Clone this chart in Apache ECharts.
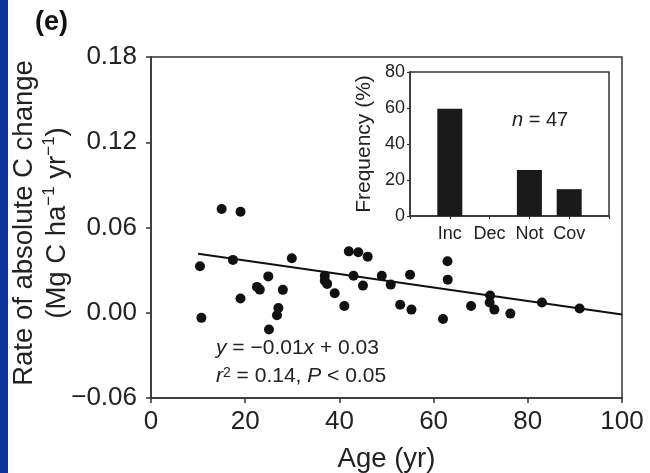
<!DOCTYPE html>
<html><head><meta charset="utf-8">
<script src="https://cdn.jsdelivr.net/npm/echarts@6/dist/echarts.min.js"></script>
<style>html,body{margin:0;padding:0;background:#fff}#c{width:650px;height:473px}</style>
</head><body><div id="c"></div>
<script>
// Main scatter: stand age (yr) vs rate of absolute C change (Mg C ha-1 yr-1)
const ages  = [15.0, 19.0, 10.4, 17.4, 29.9, 24.9, 22.5, 23.1, 28.0, 19.0, 27.05, 26.75, 10.7, 25.05,
               36.9, 36.9, 37.4, 39.0, 41.05, 42.0, 44.0, 46.0, 43.0, 45.0, 49.0, 50.9, 52.9, 55.3,
               55.0, 62.95, 63.0, 62.0, 67.95, 72.0, 71.9, 72.9, 76.3, 83.0, 91.0];
const rates = [0.0730, 0.0711, 0.0327, 0.0372, 0.0383, 0.0256, 0.0182, 0.0163, 0.0161, 0.0100, 0.0034, -0.0018, -0.0036, -0.0118,
               0.0261, 0.0226, 0.0203, 0.0137, 0.0048, 0.0432, 0.0426, 0.0395, 0.0260, 0.0191, 0.0260, 0.0198, 0.0056, 0.0022,
               0.0267, 0.0363, 0.0233, -0.0044, 0.0047, 0.0121, 0.0072, 0.0022, -0.0006, 0.0072, 0.0030];
// Fitted regression line end points
const trendAges  = [10, 100];
const trendRates = [0.0416, -0.0013];
// Axis ticks
const xTicks = [0, 20, 40, 60, 80, 100];
const yTicks = [-0.06, 0.00, 0.06, 0.12, 0.18];
// Inset: frequency (%) per category
const insetCats = ['Inc', 'Dec', 'Not', 'Cov'];
const insetFreq = [59.6, 0, 25.5, 14.9];
const insetTicks = [0, 20, 40, 60, 80];

const FONT = '"Liberation Sans", Arial, Helvetica, sans-serif';
const TXT = '#222';
const AX = '#333';

const scatterData = ages.map((a, i) => [a, rates[i]]);
const trendData = trendAges.map((a, i) => [a, trendRates[i]]);
const insetAxisCats = [''].concat(insetCats, ['']);
const insetBarData = ['-'].concat(insetFreq, ['-']);

const fmtY = v => (v < 0 ? '\u2212' : '') + Math.abs(v).toFixed(2);

const chart = echarts.init(document.getElementById('c'), null, {renderer: 'canvas'});
chart.setOption({
  animation: false,
  backgroundColor: '#fff',
  textStyle: {fontFamily: FONT},
  grid: [
    {left: 151, right: 28, top: 57, bottom: 75, show: true, borderColor: AX, borderWidth: 1.5,
     backgroundColor: 'transparent', containLabel: false, outerBoundsMode: 'none'},
    {left: 410, right: 41, top: 72, bottom: 257, show: true, borderColor: AX, borderWidth: 1.5,
     backgroundColor: '#fff', containLabel: false, outerBoundsMode: 'none'}
  ],
  xAxis: [
    {
      gridIndex: 0, type: 'value', min: xTicks[0], max: xTicks[xTicks.length - 1], interval: 20,
      name: 'Age (yr)', nameLocation: 'middle', nameGap: 47, nameMoveOverlap: false,
      nameTextStyle: {fontFamily: FONT, fontSize: 27.5, color: TXT},
      axisLine: {show: true, onZero: false, lineStyle: {color: AX, width: 1.5}},
      axisTick: {show: true, inside: false, length: 5, lineStyle: {color: AX, width: 1.5}},
      axisLabel: {fontFamily: FONT, fontSize: 26, color: TXT, margin: 11},
      splitLine: {show: false}
    },
    {
      gridIndex: 1, type: 'category', data: insetAxisCats, boundaryGap: false,
      axisLine: {show: true, lineStyle: {color: AX, width: 1.5}},
      axisTick: {show: true, inside: false, length: 3, lineStyle: {color: AX, width: 1.2}},
      axisLabel: {fontFamily: FONT, fontSize: 18, color: TXT, margin: 9, interval: 0},
      splitLine: {show: false}
    }
  ],
  yAxis: [
    {
      gridIndex: 0, type: 'value', min: yTicks[0], max: yTicks[yTicks.length - 1], interval: 0.06,
      name: '{a|Rate of absolute C change}\n{a|(Mg C ha}{s|\u22121}{a| yr}{s|\u22121}{a|)}',
      nameLocation: 'middle', nameGap: 77, nameRotate: 90, nameMoveOverlap: false,
      nameTextStyle: {
        fontFamily: FONT, fontSize: 27.5, color: TXT, lineHeight: 33, padding: [0, 0, 0, 9],
        rich: {
          a: {fontFamily: FONT, fontSize: 27.5, color: TXT, lineHeight: 33},
          s: {fontFamily: FONT, fontSize: 17, color: TXT, lineHeight: 20, verticalAlign: 'top'}
        }
      },
      axisLine: {show: true, onZero: false, lineStyle: {color: AX, width: 1.5}},
      axisTick: {show: true, inside: false, length: 5, lineStyle: {color: AX, width: 1.5}},
      axisLabel: {fontFamily: FONT, fontSize: 26, color: TXT, margin: 14, formatter: fmtY},
      splitLine: {show: false}
    },
    {
      gridIndex: 1, type: 'value', min: insetTicks[0], max: insetTicks[insetTicks.length - 1], interval: 20,
      name: 'Frequency (%)', nameLocation: 'middle', nameGap: 35, nameMoveOverlap: false,
      nameTextStyle: {fontFamily: FONT, fontSize: 21, color: TXT},
      axisLine: {show: true, lineStyle: {color: AX, width: 1.5}},
      axisTick: {show: true, inside: false, length: 3, lineStyle: {color: AX, width: 1.2}},
      axisLabel: {fontFamily: FONT, fontSize: 18, color: TXT, margin: 5},
      splitLine: {show: false}
    }
  ],
  series: [
    {
      type: 'scatter', xAxisIndex: 0, yAxisIndex: 0, data: scatterData,
      symbol: 'circle', symbolSize: 10, itemStyle: {color: '#111', opacity: 1}, z: 3
    },
    {
      type: 'line', xAxisIndex: 0, yAxisIndex: 0, data: trendData,
      showSymbol: false, lineStyle: {color: '#111', width: 2}, z: 2
    },
    {
      type: 'bar', xAxisIndex: 1, yAxisIndex: 1, data: insetBarData,
      barWidth: 25, itemStyle: {color: '#1a1a1a'}, z: 4
    }
  ],
  graphic: [
    {type: 'rect', left: 0, top: 0, shape: {width: 8, height: 473}, style: {fill: '#0a349c'}, z: 10},
    {type: 'text', left: 35, top: 9, style: {text: '(e)', font: 'bold 27px ' + FONT, fill: '#111'}, z: 10},
    {type: 'text', left: 216, top: 338, z: 10, style: {
      text: '{i|y} = \u22120.01{i|x} + 0.03', font: '21px ' + FONT, fill: TXT,
      rich: {i: {fontStyle: 'italic', fontSize: 21, fontFamily: FONT, fill: TXT}}
    }},
    {type: 'text', left: 216, top: 366, z: 10, style: {
      text: '{i|r}{s|2} = 0.14, {i|P} < 0.05', font: '21px ' + FONT, fill: TXT,
      rich: {
        i: {fontStyle: 'italic', fontSize: 21, fontFamily: FONT, fill: TXT},
        s: {fontSize: 14, fontFamily: FONT, fill: TXT, verticalAlign: 'top', lineHeight: 14}
      }
    }},
    {type: 'text', left: 512, top: 110, z: 10, style: {
      text: '{i|n} = 47', font: '20px ' + FONT, fill: TXT,
      rich: {i: {fontStyle: 'italic', fontSize: 20, fontFamily: FONT, fill: TXT}}
    }}
  ]
});
</script>
</body></html>
